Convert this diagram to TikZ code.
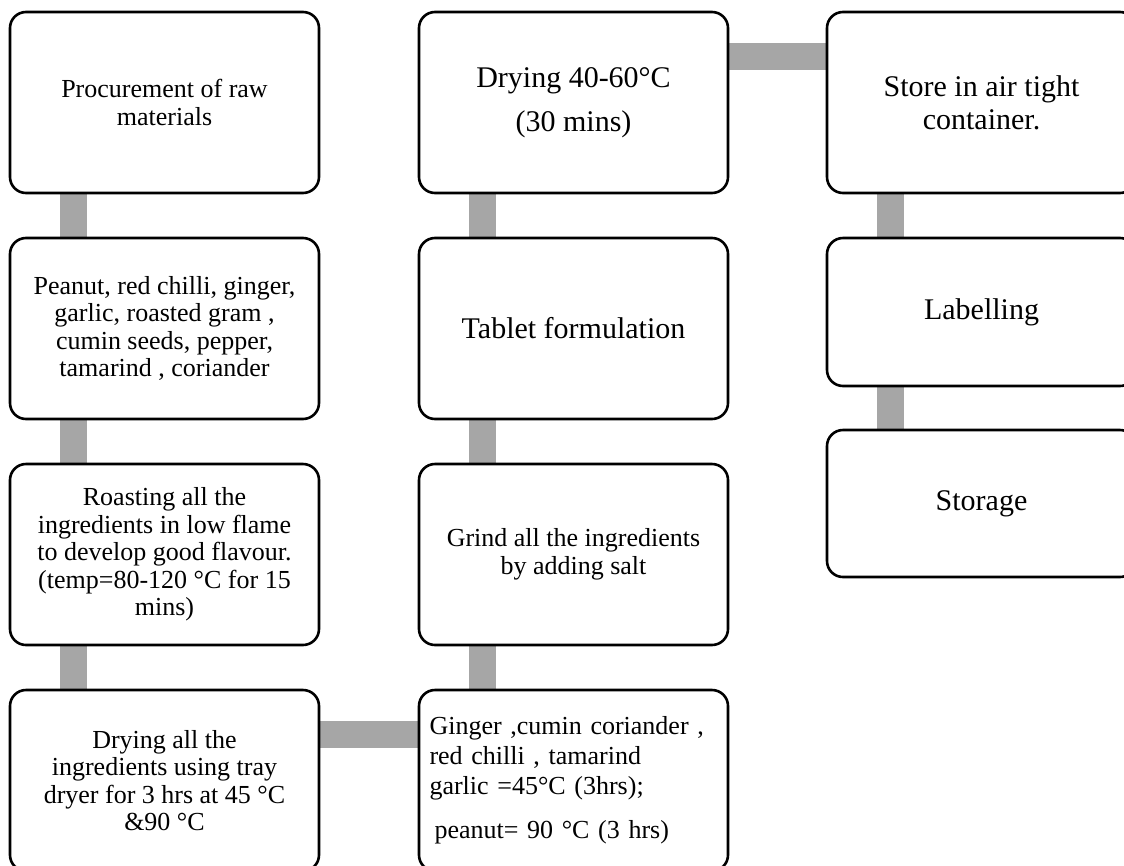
\documentclass[tikz,border=0pt]{standalone}
\usepackage{fontspec}
\setmainfont{Liberation Serif}
\usetikzlibrary{positioning, calc, backgrounds}
\definecolor{barGray}{RGB}{166, 166, 166}

\begin{document}
\begin{tikzpicture}[
    x=1pt, y=1pt,
    stage/.style={draw, line width=2.6pt, rounded corners=16pt, fill=white,
                  minimum width=309pt, minimum height=181pt, inner sep=6pt, outer sep=0pt,
                  align=center, font=\fontsize{26}{27.5}\selectfont},
    big/.style={font=\fontsize{30}{33}\selectfont},
    bar/.style={draw=barGray, line width=27pt},
    node distance=45pt and 100pt
]
\useasboundingbox (0,0) rectangle (1124,-865);

% first column, top to bottom
\node[stage, anchor=north west] (proc) at (10,-12) {Procurement of raw\\materials};
\node[stage, below=of proc] (ingr) {Peanut, red chilli, ginger,\\garlic, roasted gram ,\\cumin seeds, pepper,\\tamarind , coriander};
\node[stage, below=of ingr] (roast) {Roasting all the\\ingredients in low flame\\to develop good flavour.\\(temp=80-120 °C for 15\\mins)};
\node[stage, below=of roast] (dryall) {Drying all the\\ingredients using tray\\dryer for 3 hrs at 45 °C\\\&90 °C};

% second column, bottom to top
\node[stage, right=of proc, big] (drytab) {Drying 40-60°C\\[11pt](30 mins)};
\node[stage, below=of drytab, big] (tablet) {Tablet formulation};
\node[stage, below=of tablet] (grind) {Grind all the ingredients\\by adding salt};
\node[stage, below=of grind, text width=288pt, align=left, font=\fontsize{26}{30}\selectfont] (temps)
    {Ginger ,cumin coriander ,\\red chilli , tamarind\\garlic =45°C (3hrs);\\[14pt]\hspace*{5pt}peanut= 90 °C (3 hrs)};

% third column
\node[stage, right=99pt of drytab, big] (store) {Store in air tight\\container.};
\node[stage, below=of store, big, minimum height=148pt] (label) {Labelling};
\node[stage, below=44pt of label, big, minimum height=147pt] (storage) {Storage};

\begin{scope}[on background layer]
\draw[bar] ($(proc.south west)+(63,0)$) -- ($(ingr.north west)+(63,0)$);
\draw[bar] ($(ingr.south west)+(63,0)$) -- ($(roast.north west)+(63,0)$);
\draw[bar] ($(roast.south west)+(63,0)$) -- ($(dryall.north west)+(63,0)$);
\draw[bar] ($(dryall.north east)+(0,-44)$) -- ($(temps.north west)+(0,-44)$);
\draw[bar] ($(temps.north west)+(63,0)$) -- ($(grind.south west)+(63,0)$);
\draw[bar] ($(grind.north west)+(63,0)$) -- ($(tablet.south west)+(63,0)$);
\draw[bar] ($(tablet.north west)+(63,0)$) -- ($(drytab.south west)+(63,0)$);
\draw[bar] ($(drytab.north east)+(0,-44)$) -- ($(store.north west)+(0,-44)$);
\draw[bar] ($(store.south west)+(63,0)$) -- ($(label.north west)+(63,0)$);
\draw[bar] ($(label.south west)+(63,0)$) -- ($(storage.north west)+(63,0)$);
\end{scope}
\end{tikzpicture}
\end{document}
